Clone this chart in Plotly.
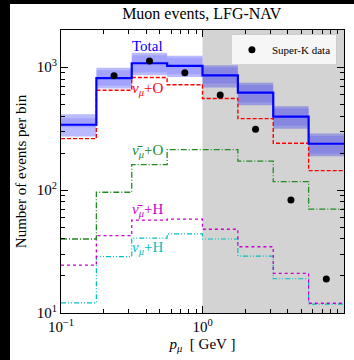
import plotly.graph_objects as go

# ---- data ----
edges = [0.1, 0.1778, 0.3162, 0.5623, 1.0, 1.778, 3.162, 5.623, 10.0]
total = [340, 813, 1075, 1025, 858, 621, 395, 238]
total_lo = [273, 670, 860, 830, 682, 490, 316, 188]
total_hi = [413, 987, 1308, 1240, 1038, 745, 481, 288]
inner_lo = [324, 705, 905, 875, 736, 515, 333, 198]
inner_hi = [384, 945, 1250, 1190, 994, 715, 460, 275]
nu_O = [262, 649, 824, 718, 555, 381, 240, 144]
nubar_O = [40, 96, 161, 213, 213, 172, 117, 70]
nubar_H = [24.5, 42.6, 57, 58, 48, 34.6, 21, 12]
nu_H = [12.1, 28.7, 40.7, 44, 40, 29, 19, 11.8]
sk_x = [0.237, 0.422, 0.750, 1.334, 2.371, 4.217, 7.499]
sk_y = [849, 1119, 898, 594, 312, 83, 18.9]

FONT = "Liberation Serif"


def step(v):
    return list(v) + [v[-1]]


fig = go.Figure()

# uncertainty bands
for lo, hi, col in [(total_lo, total_hi, "rgba(0,0,255,0.27)"),
                    (inner_lo, inner_hi, "rgba(0,0,255,0.12)")]:
    fig.add_trace(go.Scatter(x=edges, y=step(lo), mode="lines", line=dict(width=0, shape="hv"),
                             showlegend=False, hoverinfo="skip"))
    fig.add_trace(go.Scatter(x=edges, y=step(hi), mode="lines", line=dict(width=0, shape="hv"),
                             fill="tonexty", fillcolor=col, showlegend=False, hoverinfo="skip"))

lines = [
    (nu_H, "#00bfbf", "5px,2px,1px,2px,1px,2px", 1.2),
    (nubar_H, "#cc00cc", "dot", 1.3),
    (nubar_O, "#228b22", "6px,2px,1px,2px", 1.3),
    (nu_O, "red", "4px,2px", 1.4),
    (total, "blue", "solid", 2.2),
]
for vals, col, dash, w in lines:
    fig.add_trace(go.Scatter(x=edges, y=step(vals), mode="lines",
                             line=dict(color=col, dash=dash, width=w, shape="hv"),
                             showlegend=False, hoverinfo="skip"))

fig.add_trace(go.Scatter(x=sk_x, y=sk_y, mode="markers", name="Super-K data",
                         marker=dict(color="black", size=7)))

minor_x = [k * 10 ** e for e in (-1, 0) for k in range(2, 10)]
minor_y = [k * 10 ** e for e in (1, 2, 3) for k in range(2, 10) if k * 10 ** e < 2000]

axis_common = dict(type="log", showgrid=False, zeroline=False, showline=True, linecolor="black",
                   linewidth=1, mirror="allticks", ticks="inside", ticklen=7, tickcolor="black",
                   tickfont=dict(family=FONT, size=15, color="black"))

fig.update_xaxes(**axis_common, range=[-1, 1],
                 tickvals=[0.1, 1, 10],
                 ticktext=["10<sup>−1</sup>", "10<sup>0</sup>", "10<sup>1</sup>"],
                 minor=dict(tickvals=minor_x, ticks="inside", ticklen=4, tickcolor="black"),
                 title=dict(text="<i>p</i><sub><i>μ</i></sub>  [ GeV ]",
                            font=dict(family=FONT, size=15, color="black"), standoff=4))
fig.update_yaxes(**axis_common, range=[1, 3.302],
                 tickvals=[10, 100, 1000],
                 ticktext=["10<sup>1</sup>", "10<sup>2</sup>", "10<sup>3</sup>"],
                 minor=dict(tickvals=minor_y, ticks="inside", ticklen=4, tickcolor="black"),
                 title=dict(text="Number of events per bin",
                            font=dict(family=FONT, size=15, color="black"), standoff=6))

shapes = [
    dict(type="rect", xref="x", yref="paper", x0=1, x1=10, y0=0, y1=1,
         fillcolor="#d3d3d3", line=dict(width=0), layer="below"),
    dict(type="rect", xref="paper", yref="paper", x0=-0.4, x1=(10 - 61) / 283, y0=-0.3, y1=1.3,
         fillcolor="black", line=dict(width=0), layer="above"),
    dict(type="rect", xref="paper", yref="paper", x0=-0.4, x1=1.3, y0=(313 - 4) / 283, y1=1.3,
         fillcolor="black", line=dict(width=0), layer="above"),
]

labels = [
    ("Total", "blue", 0.304, 0.943),
    ("<i>ν</i><sub><i>μ</i></sub>+O", "red", 0.307, 0.793),
    ("<i>ν̄</i><sub><i>μ</i></sub>+O", "#228b22", 0.307, 0.572),
    ("<i>ν̄</i><sub><i>μ</i></sub>+H", "#cc00cc", 0.307, 0.364),
    ("<i>ν</i><sub><i>μ</i></sub>+H", "#00bfbf", 0.307, 0.230),
]
annotations = [dict(text=t, x=x, y=y, xref="paper", yref="paper", showarrow=False,
                    font=dict(family=FONT, size=15, color=c), xanchor="center", yanchor="middle")
               for t, c, x, y in labels]

fig.update_layout(
    width=354, height=360,
    margin=dict(l=61, r=10, t=30, b=47),
    paper_bgcolor="white", plot_bgcolor="white",
    title=dict(text="Muon events, LFG-NAV", x=0.57, xanchor="center", y=0.962, yanchor="middle",
               font=dict(family=FONT, size=16, color="black")),
    shapes=shapes, annotations=annotations,
    legend=dict(x=0.975, y=0.985, xanchor="right", yanchor="top",
                bgcolor="rgba(255,255,255,0.8)", bordercolor="rgba(204,204,204,0.8)", borderwidth=1,
                font=dict(family=FONT, size=11, color="black")),
    showlegend=True,
)

fig.write_html("out.html", config={"displayModeBar": False},
               post_script="document.body.style.margin='0';document.body.style.overflow='hidden';")
